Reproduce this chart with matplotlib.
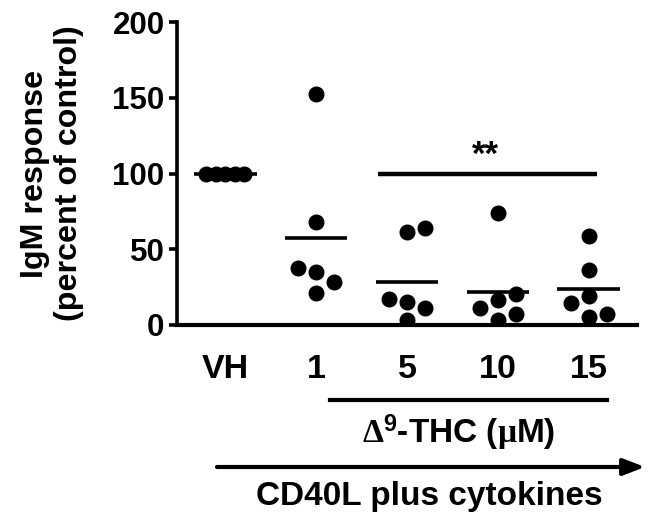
import numpy as np
import matplotlib
matplotlib.use("Agg")
import matplotlib.pyplot as plt

plt.rcParams['font.family'] = ['Liberation Sans', 'DejaVu Sans']
plt.rcParams['font.weight'] = 'bold'
plt.rcParams['mathtext.fontset'] = 'custom'
plt.rcParams['mathtext.rm'] = 'Liberation Serif'
plt.rcParams['mathtext.it'] = 'Liberation Serif:italic'
plt.rcParams['mathtext.bf'] = 'Liberation Sans:bold'

# ---- data ----
groups = ["VH", "1", "5", "10", "15"]
vh = [100, 100, 100, 100, 100]
thc_1 = [152.3, 68.2, 37.8, 35.2, 28.6, 21.3]
thc_5 = [63.8, 61.2, 17.0, 15.4, 11.0, 3.3]
thc_10 = [73.7, 20.5, 16.5, 11.4, 7.0, 3.3]
thc_15 = [58.7, 36.3, 19.1, 14.3, 7.3, 5.5]
series = [vh, thc_1, thc_5, thc_10, thc_15]
yticks = [0, 50, 100, 150, 200]
sig_label = "**"
sig_level = 100
sig_span = (1.68, 4.09)

W, H, DPI = 654, 519, 100
fig = plt.figure(figsize=(W / DPI, H / DPI), dpi=DPI)
ax = fig.add_axes([177 / W, 1 - 325 / H, (637 - 177) / W, (325 - 22) / H])
ax.set_xlim(-0.53, 4.53)
ax.set_ylim(0, 200)

# pixel scale for swarm layout
px_per_x = (637 - 177) / (4.53 + 0.53)
px_per_y = (325 - 22) / 200.0
step_px = 18.0
coll_px = 14.6
max_px = 19.0


def swarm(vals):
    order = np.argsort(vals, kind="stable")
    placed = []
    offs = np.zeros(len(vals))
    cands = [0, 1, -1, 2, -2, 3, -3]
    for i in order:
        y = vals[i] * px_per_y
        for c in cands:
            x = c * step_px
            if all(np.hypot(x - px, y - py) >= coll_px for px, py in placed):
                break
        placed.append((x, y))
        offs[i] = x
    m = np.max(np.abs(offs))
    if m > max_px:
        offs = offs * max_px / m
    return offs / px_per_x


for i, vals in enumerate(series):
    vals = np.array(vals, dtype=float)
    xo = swarm(vals)
    ax.plot(i + xo, vals, 'o', color='black', markersize=10.5, zorder=3)
    mean = vals.mean()
    ax.plot([i - 0.345, i + 0.345], [mean, mean], color='black', lw=2.6,
            solid_capstyle='butt', zorder=2)

# significance bar
ax.plot(list(sig_span), [sig_level, sig_level], color='black', lw=3.2,
        solid_capstyle='butt')
ax.text(sum(sig_span) / 2 - 0.02, sig_level + 12, sig_label, ha='center',
        va='center', fontsize=25, fontweight='bold')

for s in ['top', 'right']:
    ax.spines[s].set_visible(False)
ax.spines['left'].set_linewidth(2.6)
ax.spines['bottom'].set_linewidth(3.0)
ax.set_yticks(yticks)
ax.set_yticklabels([str(t) for t in yticks], fontsize=22.5, fontweight='bold')
ax.tick_params(axis='y', length=6, width=2.6, pad=3)
ax.set_xticks(range(len(groups)))
ax.set_xticklabels(groups, fontsize=24.5, fontweight='bold')
ax.tick_params(axis='x', length=0, pad=21)
ax.set_ylabel("IgM response\n(percent of control)", fontsize=23.2,
              fontweight='bold', labelpad=20, linespacing=1.2)

# lower annotations
fig.add_artist(plt.Line2D([330 / W, 607 / W], [1 - 400 / H, 1 - 400 / H],
                          color='black', lw=3.0, transform=fig.transFigure))
fig.text(459 / W, 1 - 433 / H,
         r"$\Delta^{\mathbf{9}}$-THC ($\mathrm{\mu}$M)",
         ha='center', va='center', fontsize=24, fontweight='bold')
ax.annotate("", xy=(645 / W, 1 - 467 / H), xytext=(217 / W, 1 - 467 / H),
            xycoords='figure fraction', textcoords='figure fraction',
            arrowprops=dict(arrowstyle='-|>,head_length=1.3,head_width=0.5',
                            color='black', lw=3.0, shrinkA=0, shrinkB=0))
fig.text(429 / W, 1 - 497 / H, "CD40L plus cytokines", ha='center',
         va='center', fontsize=24, fontweight='bold')

fig.savefig("out.png", dpi=DPI)
